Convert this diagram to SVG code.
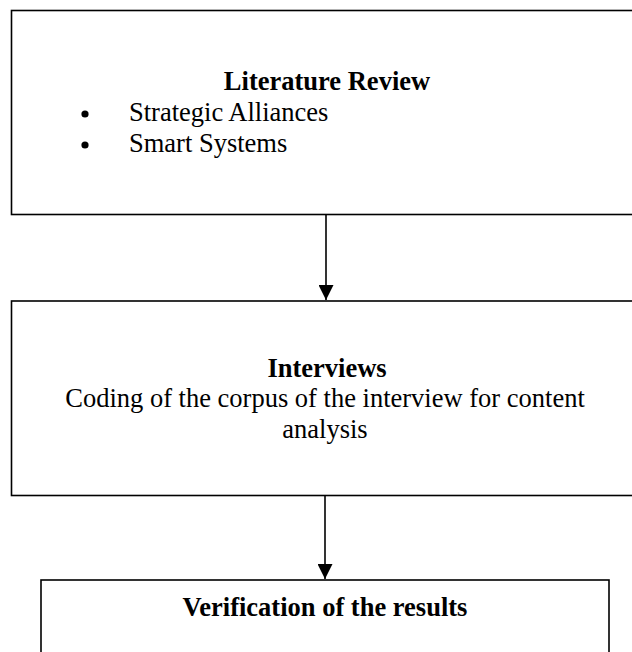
<svg xmlns="http://www.w3.org/2000/svg" width="632" height="652" viewBox="0 0 632 652">
<style>
.box{fill:#fff;stroke:#000;stroke-width:1.6}
.t{font-family:"Liberation Serif","Times New Roman",serif;font-size:26.5px;fill:#000}
.b{font-weight:bold}
.c{text-anchor:middle}
.line{stroke:#000;stroke-width:1.6;fill:none}
</style>
<defs>
<marker id="ah" markerUnits="userSpaceOnUse" markerWidth="16" markerHeight="15" refX="15" refY="7.5" orient="auto">
<path d="M0,0 L15,7.5 L0,15 Z" fill="#000"/>
</marker>
</defs>
<rect width="632" height="652" fill="#fff"/>
<g id="literature-review">
<rect class="box" x="11.5" y="10.5" width="632" height="204"/>
<text class="t b c" x="327" y="90">Literature Review</text>
<circle cx="85" cy="114" r="3.6" fill="#000"/>
<text class="t" x="129" y="121">Strategic Alliances</text>
<circle cx="85" cy="145" r="3.6" fill="#000"/>
<text class="t" x="129" y="152">Smart Systems</text>
</g>
<g id="interviews">
<rect class="box" x="11.5" y="301" width="632" height="194.5"/>
<text class="t b c" x="327" y="377">Interviews</text>
<text class="t c" x="325" y="407">Coding of the corpus of the interview for content</text>
<text class="t c" x="325" y="438">analysis</text>
</g>
<g id="verification">
<rect class="box" x="41" y="580" width="568" height="100"/>
<text class="t b c" x="325" y="616">Verification of the results</text>
</g>
<g id="connectors">
<line class="line" x1="326" y1="215" x2="326" y2="300" marker-end="url(#ah)"/>
<line class="line" x1="325" y1="496" x2="325" y2="579" marker-end="url(#ah)"/>
</g>
</svg>
